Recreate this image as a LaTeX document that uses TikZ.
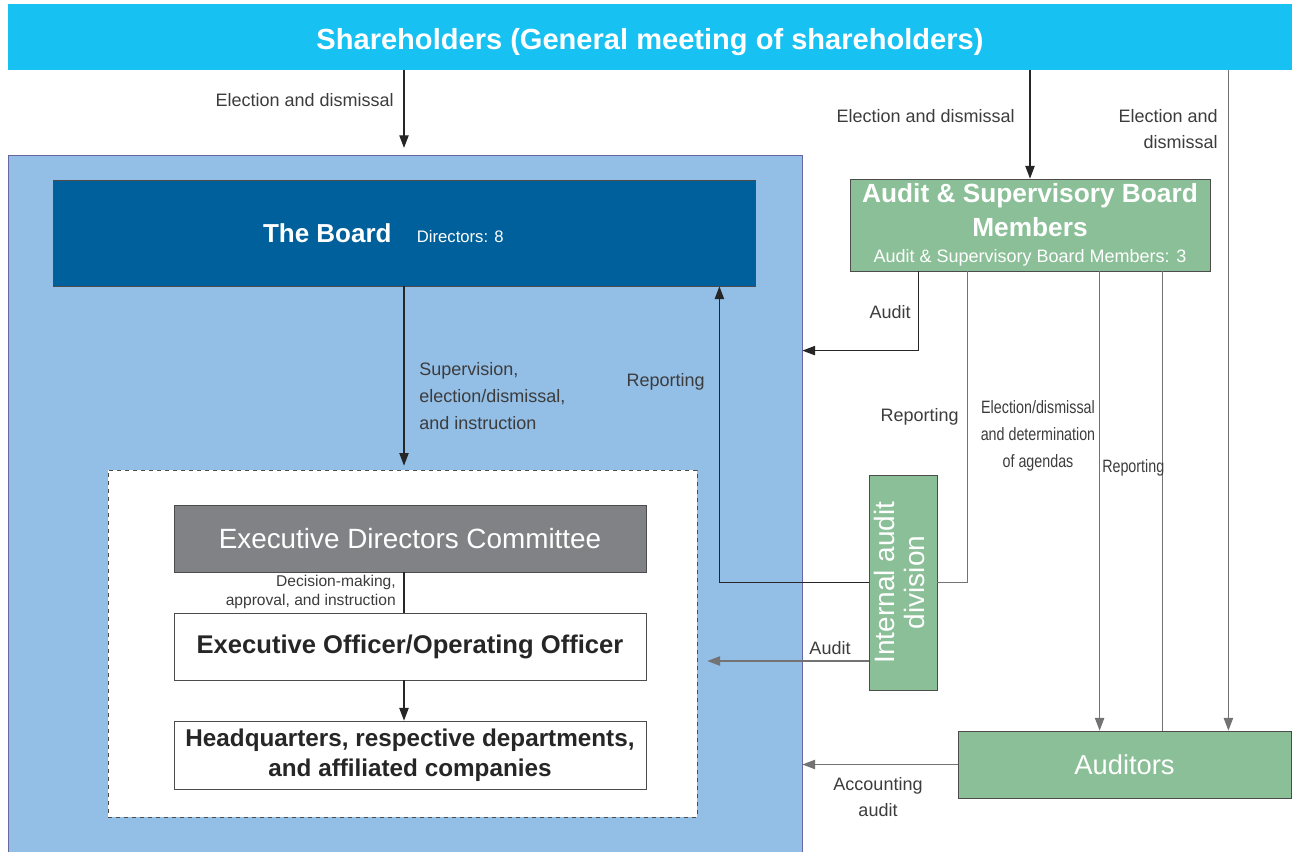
\documentclass[tikz,border=0pt]{standalone}
\usepackage{fontspec}
\setmainfont{Liberation Sans}
\newfontfamily\narrowfont[FakeStretch=0.8]{Liberation Sans}
\usepackage{xcolor}
\usepackage{graphicx}
\usetikzlibrary{positioning,calc,arrows.meta}

\definecolor{shcyan}{RGB}{23,193,241}
\definecolor{orgblue}{RGB}{147,190,230}
\definecolor{boardblue}{RGB}{0,96,155}
\definecolor{audgreen}{RGB}{139,191,151}
\definecolor{edcgray}{RGB}{128,130,133}
\definecolor{lblgray}{RGB}{60,60,60}

\begin{document}
\begin{tikzpicture}[x=0.75pt, y=-0.75pt, >={Triangle[length=9.5pt,width=7pt]}]
  \tikzstyle{shbox}=[rectangle, fill=shcyan, minimum width=963pt, minimum height=49.5pt,
                     text height=19pt, text depth=0pt,
                     text=white, font=\fontsize{21.8}{26}\selectfont\bfseries]
  \tikzstyle{orgbox}=[rectangle, draw=black!60!blue!60, fill=orgblue, line width=0.6pt,
                      minimum width=595.5pt, minimum height=528.75pt]
  \tikzstyle{boardbox}=[rectangle, draw=black!70, fill=boardblue, line width=0.6pt,
                        minimum width=526.5pt, minimum height=79.5pt, text=white]
  \tikzstyle{gbox}=[rectangle, draw=black!70, fill=audgreen, line width=0.6pt,
                    text=white, align=center, inner sep=1pt]
  \tikzstyle{dashbox}=[rectangle, draw=black!70, fill=white, dashed, line width=0.5pt,
                       minimum width=441.75pt, minimum height=260.25pt]
  \tikzstyle{wbox}=[rectangle, draw=black!70, fill=white, line width=0.6pt,
                    minimum width=354pt, minimum height=50.25pt, align=center,
                    font=\fontsize{19.2}{22.5}\selectfont\bfseries, text=black!85]
  \tikzstyle{lbl}=[font=\fontsize{13.5}{20}\selectfont, text=lblgray, inner sep=0pt]
  \tikzstyle{nlbl}=[font=\narrowfont\fontsize{13.4}{20}\selectfont, text=lblgray, inner sep=0pt]
  \tikzstyle{arr}=[->, line width=0.9pt, black!85]
  \tikzstyle{garr}=[->, line width=0.9pt, black!55]
  \tikzstyle{gline}=[line width=0.9pt, black!55]

  \useasboundingbox (0,0) rectangle (1292,851);

  % boxes
  \node[shbox] at (650,37) (sh) {Shareholders (General meeting of shareholders)};
  \node[orgbox] at (405,507.5) (org) {};
  \node[boardbox] at (404,233) (board)
       {{\fontsize{19.5}{23}\selectfont\bfseries The Board}\hspace{19pt}{\fontsize{12.5}{14}\selectfont Directors: 8}\kern31pt};
  \node[gbox, minimum width=270pt, minimum height=69pt,
        font=\fontsize{19.7}{25.5}\selectfont\bfseries] at (1030,225) (asb)
       {Audit \& Supervisory Board\\Members\\[-6pt]{\mdseries\fontsize{13.5}{15}\selectfont Audit \& Supervisory Board Members: 3}};
  \node[gbox, minimum width=51pt, minimum height=161.25pt,
        font=\fontsize{21}{22.5}\selectfont] at (903,582.5) (ia)
       {\rotatebox{90}{\begin{tabular}{@{}c@{}}Internal audit\\division\end{tabular}}};
  \node[gbox, minimum width=249.75pt, minimum height=50.25pt,
        font=\fontsize{20.5}{24}\selectfont] at (1124.5,764.5) (aud) {Auditors};
  \node[dashbox] at (402.5,643.5) (exec) {};
  \node[wbox, fill=edcgray, text=white, font=\fontsize{20.9}{24}\selectfont] at (410,538.5) (edc)
       {Executive Directors Committee};
  \node[wbox] at (410,646.5) (eo) {Executive Officer/Operating Officer};
  \node[wbox, minimum height=51pt, font=\fontsize{18.2}{22.5}\selectfont\bfseries] at (410,755) (hq)
       {Headquarters, respective departments,\\and affiliated companies};

  % helper points
  \coordinate (asbA) at ($(asb.south west)+(69,0)$);
  \coordinate (asbB) at ($(asb.south west)+(118,0)$);
  \coordinate (asbC) at ($(asb.south west)+(250,0)$);
  \coordinate (asbD) at ($(asb.south west)+(313,0)$);
  \coordinate (audR) at ($(aud.north east)+(-63,0)$);
  \coordinate (rep)  at ($(board.south east)+(-36,0)$);
  \coordinate (iaout) at ($(ia.west)+(0,78.5)$);
  \coordinate (auditin) at ($(org.north east)+(0,196)$);

  % connectors
  \draw[arr, shorten >=5pt] (sh.south -| board.south) -- (board.south |- org.north);
  \draw[arr] (sh.south -| asb.north) -- (asb.north);
  \draw[garr] (sh.south -| audR) -- (audR);
  \draw[arr, shorten >=3pt] (board.south) -- (board.south |- exec.north);
  \draw[arr] (asbA) |- (auditin);
  \draw[arr] (ia.west) -| (rep);
  \draw[gline] (asbB) |- (ia.east);
  \draw[garr] (asbC) -- (asbC |- aud.north);
  \draw[gline] (asbD |- aud.north) -- (asbD);
  \draw[garr, shorten >=7.5pt] (iaout) -- (iaout -| exec.east);
  \draw[garr] (aud.west) -- (aud.west -| org.east);
  \draw[line width=0.9pt, black!85] (edc.south -| board.south) -- (eo.north -| board.south);
  \draw[arr] (eo.south -| board.south) -- (hq.north -| board.south);

  % labels
  \node[lbl, anchor=east] at (394,100) (l1) {Election and dismissal};
  \node[lbl, anchor=east] at (1015,116) (l2) {Election and dismissal};
  \node[lbl, anchor=east, align=right] at (1218,129) (l3) {Election and\\dismissal};
  \node[lbl, anchor=west, align=left] at (419,396) (l4) {Supervision,\\election/dismissal,\\and instruction};
  \node[lbl, anchor=east] at (705,382) (l5) {Reporting};
  \node[lbl, anchor=east] at (911,312) (l6) {Audit};
  \node[lbl, anchor=east] at (959,417) (l7) {Reporting};
  \node[nlbl, align=center] at (1038,436) (l8) {Election/dismissal\\and determination\\of agendas};
  \node[nlbl, anchor=west] at (1102,468) (l9) {Reporting};
  \node[lbl, anchor=east, align=right, font=\fontsize{11.7}{14.5}\selectfont] at (396,592) (l10)
       {Decision-making,\\approval, and instruction};
  \node[lbl] at (830,648) (l11) {Audit};
  \node[lbl, align=center] at (878,797) (l12) {Accounting\\audit};
\end{tikzpicture}
\end{document}
